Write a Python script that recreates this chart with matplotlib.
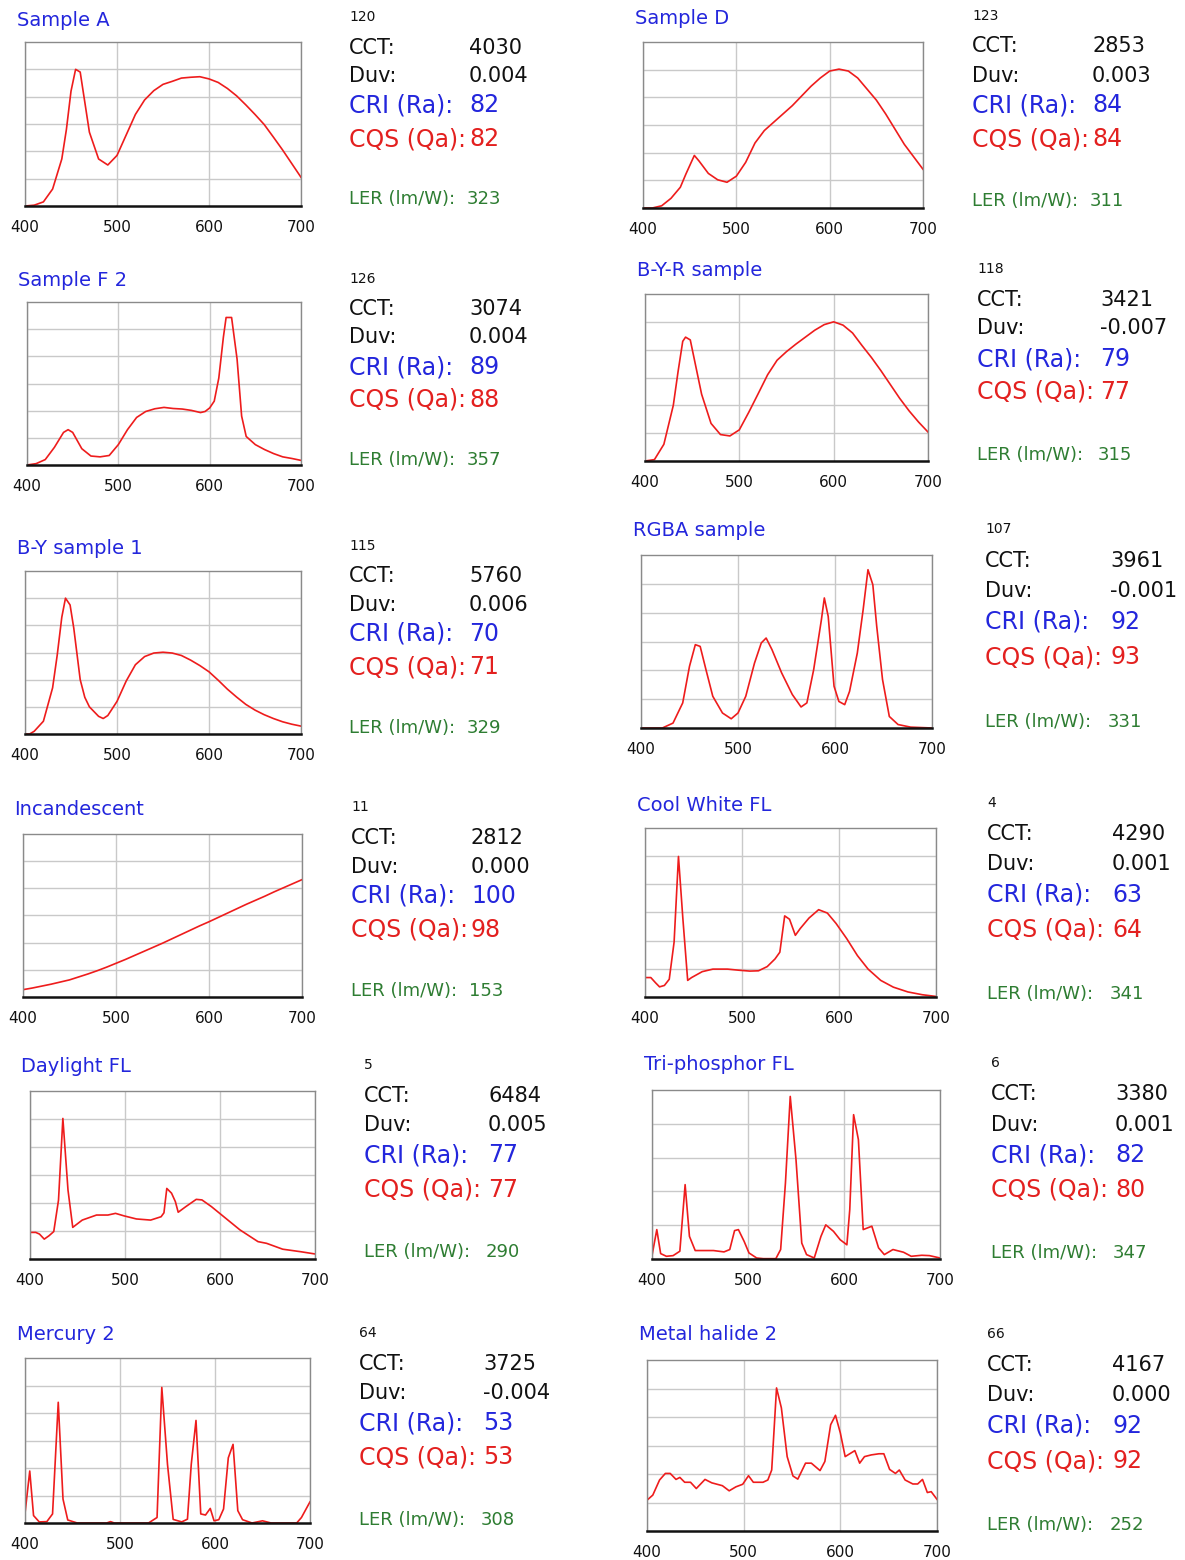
import matplotlib
matplotlib.use("Agg")
import matplotlib.pyplot as plt

plt.rcParams['font.family'] = ['DejaVu Sans']

W, H = 1185, 1560

# ---- spectral power distributions (relative units, wavelength in nm) ----
sample_a_nm = [400, 410, 420, 430, 440, 445, 450, 455, 460, 465, 470, 480, 490, 500, 510, 520, 530, 540,
               550, 560, 570, 580, 590, 600, 610, 620, 630, 640, 650, 660, 670, 680, 690, 700]
sample_a_val = [0.0, 0.03, 0.15, 0.62, 1.72, 2.8, 4.2, 5.0, 4.9, 3.8, 2.7, 1.72, 1.5, 1.85, 2.6, 3.35, 3.88,
                4.22, 4.45, 4.56, 4.68, 4.71, 4.73, 4.65, 4.52, 4.3, 4.03, 3.7, 3.35, 2.98, 2.52, 2.05, 1.55, 1.05]

sample_d_nm = [400, 410, 420, 430, 440, 446, 455, 460, 470, 480, 490, 500, 510, 520, 530, 540, 550, 560,
               570, 580, 590, 600, 610, 620, 630, 640, 650, 660, 670, 680, 690, 700]
sample_d_val = [0.0, 0.0, 0.08, 0.35, 0.75, 1.23, 1.9, 1.7, 1.25, 1.02, 0.93, 1.15, 1.65, 2.35, 2.8, 3.1,
                3.4, 3.7, 4.05, 4.4, 4.7, 4.95, 5.02, 4.95, 4.7, 4.3, 3.9, 3.4, 2.85, 2.3, 1.85, 1.4]

sample_f2_nm = [400, 410, 420, 430, 440, 445, 450, 460, 470, 480, 490, 500, 510, 520, 530, 540, 550, 560,
                570, 580, 590, 595, 600, 605, 610, 615, 618, 624, 630, 635, 640, 650, 660, 670, 680, 690, 700]
sample_f2_val = [0.0, 0.05, 0.2, 0.65, 1.2, 1.3, 1.2, 0.6, 0.33, 0.3, 0.35, 0.75, 1.3, 1.75, 1.97, 2.07,
                 2.12, 2.08, 2.06, 2.01, 1.93, 1.97, 2.1, 2.35, 3.2, 4.7, 5.43, 5.43, 3.9, 1.8, 1.05, 0.75,
                 0.57, 0.42, 0.3, 0.24, 0.17]

byr_nm = [400, 410, 420, 430, 435, 440, 443, 448, 452, 460, 470, 480, 490, 500, 510, 520, 530, 540, 550,
          560, 570, 580, 590, 600, 610, 620, 630, 640, 650, 660, 670, 680, 690, 700]
byr_val = [0.0, 0.05, 0.6, 2.0, 3.2, 4.3, 4.45, 4.35, 3.7, 2.4, 1.35, 0.95, 0.9, 1.12, 1.75, 2.42, 3.1,
           3.62, 3.93, 4.2, 4.45, 4.7, 4.9, 5.0, 4.88, 4.6, 4.15, 3.72, 3.25, 2.75, 2.25, 1.8, 1.4, 1.04]

by1_nm = [400, 405, 410, 420, 430, 435, 440, 444, 449, 453, 460, 465, 470, 480, 485, 490, 500, 510, 520,
          530, 540, 550, 560, 570, 580, 590, 600, 610, 620, 630, 640, 650, 660, 670, 680, 690, 700]
by1_val = [0.0, 0.0, 0.1, 0.47, 1.7, 2.9, 4.3, 5.0, 4.75, 3.9, 2.0, 1.35, 1.0, 0.65, 0.57, 0.68, 1.2, 1.95,
           2.55, 2.85, 2.98, 3.01, 2.98, 2.89, 2.72, 2.52, 2.29, 1.98, 1.65, 1.36, 1.09, 0.88, 0.71, 0.57,
           0.45, 0.36, 0.29]

rgba_nm = [400, 422, 433, 443, 450, 456, 461, 467, 474, 484, 493, 500, 508, 517, 524, 529, 535, 545, 556,
           565, 571, 578, 586, 589, 593, 599, 604, 610, 615, 623, 629, 634, 639, 643, 649, 656, 665, 678, 700]
rgba_val = [0.0, 0.0, 0.17, 0.87, 2.14, 2.89, 2.83, 2.02, 1.1, 0.52, 0.32, 0.52, 1.1, 2.25, 2.95, 3.12,
            2.72, 1.91, 1.16, 0.73, 0.87, 2.02, 3.76, 4.51, 3.87, 1.45, 0.92, 0.81, 1.27, 2.6, 4.1, 5.49,
            4.97, 3.53, 1.68, 0.4, 0.12, 0.03, 0.0]

incandescent_nm = [400, 410, 420, 430, 440, 450, 460, 470, 480, 490, 500, 510, 520, 530, 540, 550, 560,
                   570, 580, 590, 600, 610, 620, 630, 640, 650, 660, 670, 680, 690, 700]
incandescent_val = [0.27, 0.33, 0.4, 0.47, 0.55, 0.63, 0.74, 0.85, 0.97, 1.1, 1.24, 1.38, 1.53, 1.68,
                    1.83, 1.98, 2.14, 2.3, 2.46, 2.62, 2.77, 2.93, 3.09, 3.25, 3.41, 3.56, 3.71, 3.87,
                    4.02, 4.17, 4.32]

cool_white_nm = [400, 406, 411, 415, 420, 425, 430, 434.5, 439, 444, 448, 459, 470, 485, 497, 508, 517,
                 526, 534, 539, 544, 549, 555, 560, 569, 579, 588, 597, 608, 619, 630, 643, 656, 671, 686, 700]
cool_white_val = [0.69, 0.69, 0.5, 0.36, 0.41, 0.63, 1.95, 4.99, 2.8, 0.59, 0.69, 0.9, 0.99, 0.99, 0.95,
                  0.92, 0.93, 1.08, 1.35, 1.59, 2.88, 2.76, 2.19, 2.43, 2.8, 3.1, 2.98, 2.61, 2.07, 1.47,
                  0.99, 0.59, 0.35, 0.18, 0.08, 0.02]

daylight_nm = [400, 406, 410, 415, 420, 425, 430, 434.6, 440, 445, 455, 470, 482, 490, 499, 512, 527, 538,
               541, 544, 549, 553, 556, 564, 575, 581, 591, 604, 621, 640, 649, 666, 685, 700]
daylight_val = [0.95, 0.95, 0.89, 0.71, 0.83, 0.98, 2.1, 5.02, 2.46, 1.13, 1.39, 1.57, 1.57, 1.63, 1.54,
                1.43, 1.39, 1.51, 1.65, 2.52, 2.35, 2.05, 1.67, 1.87, 2.13, 2.11, 1.87, 1.51, 1.04, 0.62,
                0.56, 0.35, 0.26, 0.18]

triphosphor_nm = [400, 405, 409, 415, 422, 429, 434.5, 439, 445, 464, 475, 481, 486, 490, 496, 501, 509,
                  516, 529, 534, 539, 544, 550, 556, 561, 569, 576, 581, 589, 596, 603, 606, 610, 615, 620,
                  629, 636, 642, 651, 662, 670, 681, 689, 700]
triphosphor_val = [0.1, 0.87, 0.16, 0.08, 0.1, 0.23, 2.2, 0.67, 0.25, 0.25, 0.21, 0.28, 0.84, 0.87, 0.52,
                   0.18, 0.03, 0.01, 0.01, 0.28, 2.25, 4.81, 2.94, 0.47, 0.13, 0.03, 0.67, 1.01, 0.82, 0.57,
                   0.42, 1.46, 4.27, 3.53, 0.87, 0.97, 0.33, 0.13, 0.28, 0.2, 0.08, 0.11, 0.1, 0.03]

mercury_nm = [400, 405, 409, 415, 423, 429, 435, 440, 445, 455, 486, 490, 494, 530, 539, 544, 550, 556,
              565, 571, 575, 580, 585, 590, 595, 599, 604, 609, 614, 619, 624, 629, 639, 650, 659, 686,
              691, 700]
mercury_val = [0.35, 1.89, 0.27, 0.04, 0.05, 0.33, 4.39, 0.87, 0.11, 0.0, 0.0, 0.05, 0.0, 0.0, 0.2, 4.93,
               2.13, 0.13, 0.04, 0.14, 2.13, 3.73, 0.33, 0.29, 0.53, 0.08, 0.12, 0.51, 2.37, 2.86, 0.45,
               0.12, 0.0, 0.08, 0.0, 0.0, 0.2, 0.77]

metal_halide_nm = [400, 406, 413, 419, 424, 430, 434, 439, 445, 451, 460, 467, 478, 485, 492, 499, 505,
                   510, 520, 525, 529, 534, 539, 545, 551, 556, 564, 570, 579, 584, 590, 595, 600, 605,
                   615, 620, 625, 632, 640, 645, 651, 657, 661, 667, 675, 680, 685, 690, 694, 700]
metal_halide_val = [1.08, 1.26, 1.79, 2.02, 2.02, 1.81, 1.88, 1.71, 1.71, 1.49, 1.81, 1.69, 1.59, 1.41,
                    1.55, 1.64, 1.94, 1.71, 1.71, 1.79, 2.14, 5.02, 4.32, 2.61, 1.93, 1.82, 2.38, 2.38,
                    2.12, 2.44, 3.73, 4.06, 3.44, 2.61, 2.82, 2.38, 2.61, 2.67, 2.71, 2.71, 2.16, 2.02,
                    2.14, 1.79, 1.65, 1.65, 1.81, 1.35, 1.38, 1.11]

# ---- source names and colour metrics ----
names = ["Sample A", "Sample F 2", "B-Y sample 1", "Incandescent", "Daylight FL", "Mercury 2",
         "Sample D", "B-Y-R sample", "RGBA sample", "Cool White FL", "Tri-phosphor FL", "Metal halide 2"]
ids = ["120", "126", "115", "11", "5", "64", "123", "118", "107", "4", "6", "66"]
cct = ["4030", "3074", "5760", "2812", "6484", "3725", "2853", "3421", "3961", "4290", "3380", "4167"]
duv = ["0.004", "0.004", "0.006", "0.000", "0.005", "-0.004", "0.003", "-0.007", "-0.001", "0.001",
       "0.001", "0.000"]
cri = ["82", "89", "70", "100", "77", "53", "84", "79", "92", "63", "82", "92"]
cqs = ["82", "88", "71", "98", "77", "53", "84", "77", "93", "64", "80", "92"]
ler = ["323", "357", "329", "153", "290", "308", "311", "315", "331", "341", "347", "252"]

spectra = [(sample_a_nm, sample_a_val), (sample_f2_nm, sample_f2_val), (by1_nm, by1_val),
           (incandescent_nm, incandescent_val), (daylight_nm, daylight_val), (mercury_nm, mercury_val),
           (sample_d_nm, sample_d_val), (byr_nm, byr_val), (rgba_nm, rgba_val),
           (cool_white_nm, cool_white_val), (triphosphor_nm, triphosphor_val),
           (metal_halide_nm, metal_halide_val)]

# ---- panel geometry in pixels: plot box (left, top, right, bottom) ----
boxes = [(25, 42, 301, 206), (27, 302, 301, 465), (25, 571, 301, 734), (23, 834, 302, 997),
         (30, 1091, 315, 1259), (25, 1358, 310, 1523),
         (643, 42, 923, 208), (645, 294, 928, 461), (641, 555, 932, 728), (645, 828, 936, 997),
         (652, 1090, 940, 1259), (647, 1360, 937, 1531)]
title_xy = [(17, 20), (18, 281), (17, 548), (14, 809), (21, 1066), (17, 1334),
            (635, 18), (637, 270), (633, 531), (637, 805), (644, 1064), (639, 1335)]
label_x = [349, 349, 349, 351, 364, 359, 972, 977, 985, 987, 991, 987]
value_x = [469, 469, 469, 471, 488, 483, 1092, 1100, 1110, 1112, 1115, 1112]
id_y = [17, 279, 546, 807, 1065, 1333, 16, 269, 529, 803, 1063, 1334]
rows_y = [[48, 76, 105, 139, 199], [309, 337, 367, 400, 460], [576, 605, 634, 667, 728],
          [838, 867, 896, 930, 991], [1096, 1125, 1155, 1190, 1252], [1364, 1393, 1423, 1457, 1520],
          [46, 76, 105, 139, 201], [300, 328, 359, 392, 455], [561, 591, 622, 657, 722],
          [834, 864, 895, 930, 994], [1094, 1125, 1155, 1190, 1253], [1365, 1395, 1426, 1461, 1525]]
y_top = [6, 6, 6, 6, 6, 6, 6, 6, 6, 6, 5, 6]

BLUE = "#2326dc"
RED = "#e3201f"
GREEN = "#2e7d32"
CURVE = "#ee1c1c"
GRID = "#c9c9c9"

fig = plt.figure(figsize=(W / 100, H / 100), dpi=100)


def fx(x):
    return x / W


def fy(y):
    return 1 - y / H


for i in range(12):
    l, t, r, b = boxes[i]
    ax = fig.add_axes([fx(l), fy(b), (r - l) / W, (b - t) / H])
    wl, val = spectra[i]
    ax.plot(wl, val, color=CURVE, lw=1.2, solid_joinstyle="round")
    ax.set_xlim(400, 700)
    ax.set_ylim(0, y_top[i])
    ax.set_xticks([400, 500, 600, 700])
    ax.set_xticklabels(["400", "500", "600", "700"])
    ax.set_yticks(range(1, y_top[i]))
    ax.set_yticklabels([])
    ax.tick_params(axis="both", length=0)
    ax.tick_params(axis="x", pad=10, labelsize=11, labelcolor="#111111")
    ax.grid(True, color=GRID, lw=1.0)
    ax.set_axisbelow(True)
    for side in ("left", "top", "right"):
        ax.spines[side].set_color("#8a8a8a")
        ax.spines[side].set_linewidth(1.0)
    ax.spines["bottom"].set_color("#111111")
    ax.spines["bottom"].set_linewidth(1.8)

    # title above the plot
    tx, ty = title_xy[i]
    fig.text(fx(tx), fy(ty), names[i], color=BLUE, fontsize=14, va="center", ha="left")

    # metric block
    lx, vx = label_x[i], value_x[i]
    ry = rows_y[i]
    fig.text(fx(lx), fy(id_y[i]), ids[i], color="#111111", fontsize=10, va="center", ha="left")
    fig.text(fx(lx), fy(ry[0]), "CCT:", color="#111111", fontsize=15, va="center", ha="left")
    fig.text(fx(vx), fy(ry[0]), cct[i], color="#111111", fontsize=15, va="center", ha="left")
    fig.text(fx(lx), fy(ry[1]), "Duv:", color="#111111", fontsize=15, va="center", ha="left")
    fig.text(fx(vx), fy(ry[1]), duv[i], color="#111111", fontsize=15, va="center", ha="left")
    fig.text(fx(lx), fy(ry[2]), "CRI (Ra):", color=BLUE, fontsize=17, va="center", ha="left")
    fig.text(fx(vx), fy(ry[2]), cri[i], color=BLUE, fontsize=17, va="center", ha="left")
    fig.text(fx(lx), fy(ry[3]), "CQS (Qa):", color=RED, fontsize=17, va="center", ha="left")
    fig.text(fx(vx), fy(ry[3]), cqs[i], color=RED, fontsize=17, va="center", ha="left")
    fig.text(fx(lx), fy(ry[4]), "LER (lm/W):", color=GREEN, fontsize=13, va="center", ha="left")
    fig.text(fx(vx - 2), fy(ry[4]), ler[i], color=GREEN, fontsize=13, va="center", ha="left")

fig.savefig("out.png", dpi=100, facecolor="white")
